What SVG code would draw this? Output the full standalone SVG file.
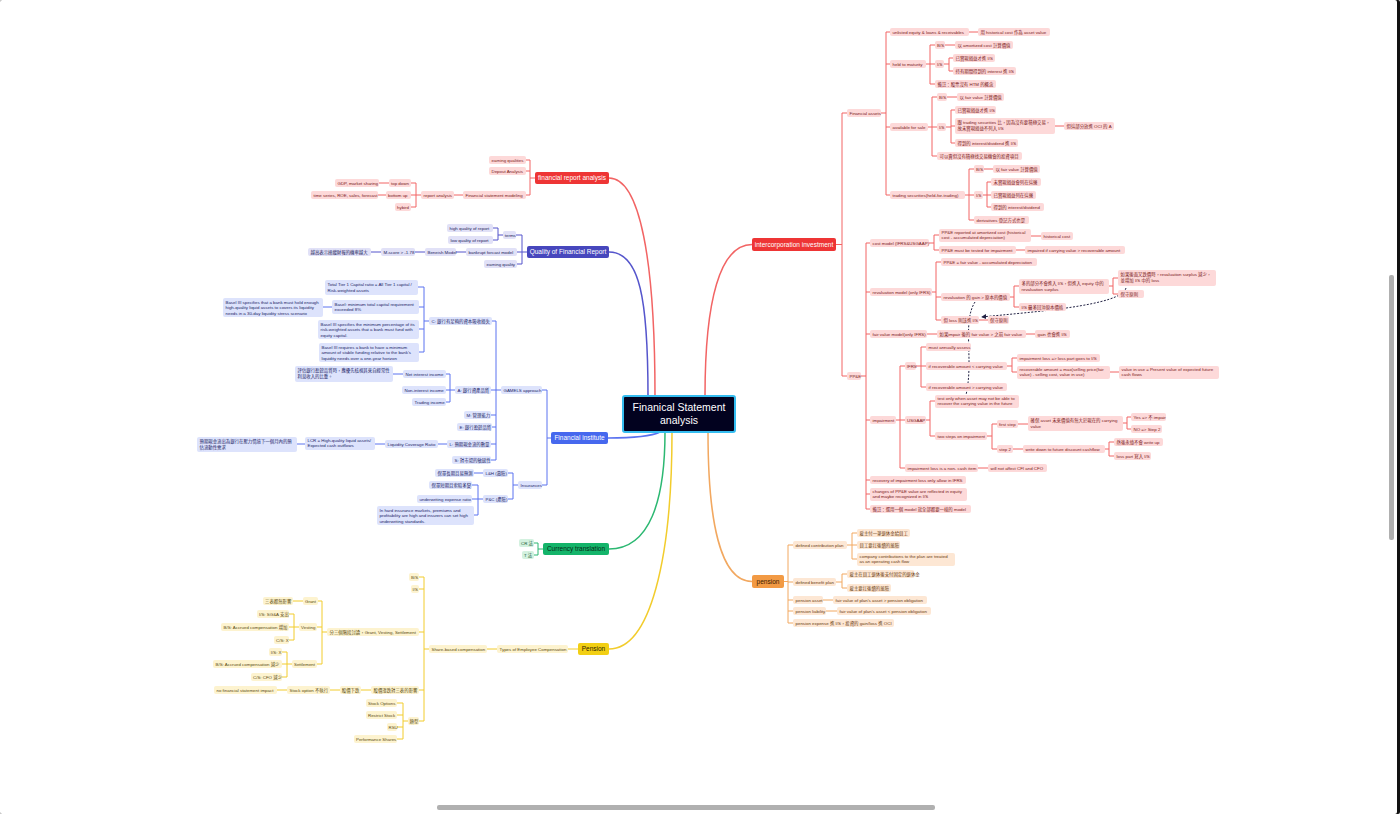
<svg xmlns="http://www.w3.org/2000/svg" width="1400" height="814" viewBox="0 0 1400 814">
<style>
text{font-family:"Liberation Sans","Noto Sans CJK TC",sans-serif;font-size:4.4px}
rect{rx:2}
.r rect{fill:#fdd9d9}.r text{fill:#7a2020}
.o rect{fill:#fde7d4}.o text{fill:#6a3a10}
.p rect{fill:#e1e1f7}.p text{fill:#22225a}
.b rect{fill:#dde3fc}.b text{fill:#1c2466}
.y rect{fill:#fdf3cf}.y text{fill:#5a4a10}
.g rect{fill:#d3f1df}.g text{fill:#1a5a36}
.m text{font-size:6.5px;fill:#fff;text-anchor:middle}
#links path{fill:none;stroke-width:1}
#links path.main{stroke-width:1.5}
.lr{stroke:#f26464}.lo{stroke:#f2a860}.lp{stroke:#5555cc}.lb{stroke:#5a72f0}.ly{stroke:#f2cc2c}.lg{stroke:#2cb872}
</style>
<defs><marker id="ah" viewBox="0 0 6 6" refX="5" refY="3" markerWidth="5" markerHeight="5" orient="auto"><path d="M0,0L6,3L0,6z" fill="#222244"/></marker></defs>
<rect x="0" y="0" width="1400" height="814" fill="#111"/>
<rect x="0" y="0" width="1397" height="814" rx="12" fill="#fff"/>
<rect x="437" y="805" width="498" height="5" rx="2.5" fill="#b0b0b0"/>
<rect x="1389" y="275" width="5" height="265" rx="2.5" fill="#b0b0b0"/>
<g id="links">
<path class="lr main" d="M705,396C705,300 720,244.5 752,244.5"/>
<path class="lo main" d="M708,432C708,520 720,581.5 752,581.5"/>
<path class="lr main" d="M655,396C655,260 640,178 609,178"/>
<path class="lp main" d="M648,396C648,300 640,252 609,252"/>
<path class="lb main" d="M660,432C650,437 630,438 608,438"/>
<path class="lg main" d="M665,432C665,500 650,549 609,549"/>
<path class="ly main" d="M672,432C672,560 650,649 609,649"/>
<path class="lr" d="M836,244.5H842M842,113V376M842,113H847M842,376H847"/>
<path class="lr" d="M881,113H886M886,32V195M886,32H890M886,64H890M886,127H890M886,195H890M969,32H978"/>
<path class="lr" d="M926,64H930M930,45V84M930,45H935M930,64H935M930,84H935M945,45H955M944,64H949M949,58V71M949,58H953M949,71H953"/>
<path class="lr" d="M928,127H932M932,97V156M932,97H937M932,127H937M932,156H937M947,97H957M946,127H951M951,110V143M951,110H955M951,126H955M951,143H955M1055,126H1064"/>
<path class="lr" d="M965,195H969M969,169V220M969,169H974M969,195H974M969,220H974M984,169H993M983,195H987M987,182V207M987,182H991M987,195H991M987,207H991"/>
<path class="lr" d="M861,376H866M866,243V509M866,243H870M866,292H870M866,334H870M866,420H870M866,480H870M866,494H870M866,509H870"/>
<path class="lr" d="M929,243H934M934,235V250M934,235H939M934,250H939M1031,236H1041M1016,250H1025"/>
<path class="lr" d="M932,292H936M936,262V320M936,262H941M936,297H941M936,320H941M1010,297H1014M1014,286V307M1014,286H1019M1014,307H1019M1109,286H1113M1113,278V294M1113,278H1118M1113,294H1118M979,320H988"/>
<path class="lr" d="M927,334H937M1026,334H1035"/>
<path class="lr" d="M896,420H900M900,366V468M900,366H905M900,420H905M900,468H905M916,366H921M921,347V387M921,347H926M921,366H926M921,387H926M1007,366H1012M1012,358V372M1012,358H1017M1012,372H1017M1110,372H1119"/>
<path class="lr" d="M926,420H930M930,401V436M930,401H935M930,436H935M987,436H992M992,424V449M992,424H997M992,449H997M1018,424H1028M1123,423H1127M1127,417V429M1127,417H1131M1127,429H1131M1013,449H1023M1105,449H1109M1109,442V456M1109,442H1114M1109,456H1114M978,468H988"/>
<path d="M1126,288C1122,306 1030,312 982,317" stroke="#222244" stroke-dasharray="2,1.5" marker-end="url(#ah)"/>
<path d="M975,302C962,322 974,360 966,395" stroke="#222244" stroke-dasharray="2,1.5"/>
<path class="lo" d="M784,581.5H788M788,545V623M788,545H793M788,582H793M788,600H793M788,611H793M788,623H793M847,545H852M852,533V559M852,533H857M852,545H857M852,559H857M836,582H842M842,574V588M842,574H847M842,588H847M823,600H833M826,611H837"/>
<path class="lr" d="M535,178H530M530,160V195M530,160H526M530,171H526M530,195H526M463,195H454M421,195H416M416,183V207M416,183H411M416,195H411M416,207H411M389,183H379M386,195H378"/>
<path class="lp" d="M527,252H522M522,235V264M522,235H516M522,252H517M522,264H517M503,235H498M498,228V240M498,228H493M498,240H493M466,252H456M425,252H415M381,252H371"/>
<path class="lb" d="M551,438H547M547,390V485M547,390H542M547,485H542M501,390H496M496,321V460M496,321H492M496,390H491M496,415H491M496,427H492M496,444H491M496,460H491"/>
<path class="lb" d="M429,321H424M424,287V352M424,287H418M424,307H419M424,329H419M424,352H419M332,307H323"/>
<path class="lb" d="M455,390H450M450,374V402M450,374H446M450,390H446M450,402H446M403,374H393M447,444H438M385,444H375M305,444H297"/>
<path class="lb" d="M518,485H513M513,473V499M513,473H508M513,499H508M483,473H474M483,499H478M478,485V515M478,485H472M478,499H472M478,515H474"/>
<path class="lg" d="M543,549H538M538,543V555M538,543H534M538,555H534"/>
<path class="ly" d="M578,649H568M497,649H487M429,649H424M424,577V721M424,577H419M424,589H419M424,632H419M424,690H419M424,721H419"/>
<path class="ly" d="M327,632H322M322,601V664M322,601H318M322,627H317M322,664H317M303,601H293M299,627H294M294,614V640M294,614H289M294,627H289M294,640H289M292,664H287M287,652V677M287,652H282M287,664H282M287,677H282"/>
<path class="ly" d="M371,690H361M340,690H330M287,690H277M408,721H403M403,703V739M403,703H397M403,715H397M403,727H397M403,739H397"/>
</g>
<g id="center"><rect x="623" y="396" width="112" height="36" rx="4" fill="#02021f" stroke="#35bdf0" stroke-width="2"/><text x="679" y="411" fill="#fff" text-anchor="middle" style="font-size:10.5px">Finanical Statement</text><text x="679" y="424" fill="#fff" text-anchor="middle" style="font-size:10.5px">analysis</text></g>
<g id="intercorp" class="m"><rect x="752" y="238" width="84" height="13" fill="#ee3535"/><text x="794" y="246.8">intercorporation investment</text></g>
<g id="pension_o" class="m"><rect x="752" y="575" width="32" height="13" fill="#f29a44"/><text x="768" y="583.8" style="fill:#3a1a00">pension</text></g>
<g id="fra" class="m"><rect x="535" y="172" width="74" height="12" fill="#ee3535"/><text x="572" y="180.3">financial report analysis</text></g>
<g id="qfr" class="m"><rect x="527" y="246" width="82" height="12" fill="#4747bd"/><text x="568" y="254.3">Quality of Financial Report</text></g>
<g id="fi" class="m"><rect x="551" y="432" width="57" height="12" fill="#4668ee"/><text x="579.5" y="440.3">Financial institute</text></g>
<g id="ct" class="m"><rect x="543" y="543" width="66" height="12" fill="#14b46a"/><text x="576" y="551.3" style="fill:#062a16">Currency translation</text></g>
<g id="pension_y" class="m"><rect x="578" y="643" width="31" height="12" fill="#f2cf14"/><text x="593.5" y="651.3" style="fill:#2a2200">Pension</text></g>
<g class="r">
<g id="r1"><rect x="847" y="109" width="34" height="8"/><text x="849.5" y="114.6">Financial assets</text></g>
<g id="r2"><rect x="890" y="28" width="79" height="8"/><text x="892.5" y="33.6">unlisted equity &amp; loans &amp; receivables</text></g>
<g id="r3"><rect x="978" y="28" width="72" height="8"/><text x="980.5" y="33.6">用 historical cost 作為 asset value</text></g>
<g id="r4"><rect x="890" y="60" width="36" height="8"/><text x="892.5" y="65.6">held to maturity</text></g>
<g id="r5"><rect x="935" y="41" width="10" height="8"/><text x="937" y="46.6">B/S</text></g>
<g id="r6"><rect x="955" y="41" width="58" height="8"/><text x="957.5" y="46.6">以 amortized cost 計算價值</text></g>
<g id="r7"><rect x="935" y="60" width="9" height="8"/><text x="937" y="65.6">I/S</text></g>
<g id="r8"><rect x="953" y="54" width="42" height="8"/><text x="955.5" y="59.6">已實現損益才進 I/S</text></g>
<g id="r9"><rect x="953" y="67" width="63" height="8"/><text x="955.5" y="72.6">持有期間得到的 interest 進 I/S</text></g>
<g id="r10"><rect x="935" y="80" width="61" height="8"/><text x="937.5" y="85.6">備註：股票沒有 HTM 的概念</text></g>
<g id="r11"><rect x="890" y="123" width="38" height="8"/><text x="892.5" y="128.6">available for sale</text></g>
<g id="r12"><rect x="937" y="93" width="10" height="8"/><text x="939" y="98.6">B/S</text></g>
<g id="r13"><rect x="957" y="93" width="47" height="8"/><text x="959.5" y="98.6">以 fair value 計算價值</text></g>
<g id="r14"><rect x="937" y="123" width="9" height="8"/><text x="939" y="128.6">I/S</text></g>
<g id="r15"><rect x="955" y="106" width="41" height="8"/><text x="957.5" y="111.6">已實現損益才進 I/S</text></g>
<g id="r16"><rect x="955" y="118" width="100" height="16"/><text x="957.5" y="124">跟 trading securities 比，因為沒有要積極交易，</text><text x="957.5" y="130">故未實現損益不列入 I/S</text></g>
<g id="r17"><rect x="1064" y="122" width="50" height="8"/><text x="1066.5" y="127.6">但這部分放進 OCI 的 A</text></g>
<g id="r18"><rect x="955" y="139" width="63" height="8"/><text x="957.5" y="144.6">得到的 interest/dividend 進 I/S</text></g>
<g id="r19"><rect x="937" y="152" width="85" height="8"/><text x="939.5" y="157.6">可以賣但沒有積極找交易機會的投資項目</text></g>
<g id="r20"><rect x="890" y="191" width="75" height="8"/><text x="892.5" y="196.6">trading securities(held-for-trading)</text></g>
<g id="r21"><rect x="974" y="165" width="10" height="8"/><text x="976" y="170.6">B/S</text></g>
<g id="r22"><rect x="993" y="165" width="47" height="8"/><text x="995.5" y="170.6">以 fair value 計算價值</text></g>
<g id="r23"><rect x="974" y="191" width="9" height="8"/><text x="976" y="196.6">I/S</text></g>
<g id="r24"><rect x="991" y="178" width="50" height="8"/><text x="993.5" y="183.6">未實現損益會列在這邊</text></g>
<g id="r25"><rect x="991" y="191" width="45" height="8"/><text x="993.5" y="196.6">已實現損益列在這邊</text></g>
<g id="r26"><rect x="991" y="203" width="53" height="8"/><text x="993.5" y="208.6">得到的 interest/dividend</text></g>
<g id="r27"><rect x="974" y="216" width="55" height="8"/><text x="976.5" y="221.6">derivatives 登記方式也是</text></g>
<g id="r28"><rect x="847" y="372" width="14" height="8"/><text x="849.5" y="377.6">PP&amp;E</text></g>
<g id="r29"><rect x="870" y="239" width="59" height="8"/><text x="872.5" y="244.6">cost model (IFRS&amp;USGAAP)</text></g>
<g id="r30"><rect x="939" y="229" width="92" height="13"/><text x="941.5" y="234.2">PP&amp;E reported at amortized cost (historical</text><text x="941.5" y="239.4">cost - accumulated depreciation)</text></g>
<g id="r31"><rect x="1041" y="232" width="32" height="8"/><text x="1043.5" y="237.6">historical cost</text></g>
<g id="r32"><rect x="939" y="246" width="77" height="8"/><text x="941.5" y="251.6">PP&amp;E must be tested for impairment</text></g>
<g id="r33"><rect x="1025" y="246" width="100" height="8"/><text x="1027.5" y="251.6">impaired if carrying value &gt; recoverable amount</text></g>
<g id="r34"><rect x="870" y="288" width="62" height="8"/><text x="872.5" y="293.6">revaluation model (only IFRS)</text></g>
<g id="r35"><rect x="941" y="258" width="96" height="8"/><text x="943.5" y="263.6">PP&amp;E = fair value  - accumulated depreciation</text></g>
<g id="r36"><rect x="941" y="293" width="69" height="8"/><text x="943.5" y="298.6">revaluation 的 gain &gt; 原本的價值</text></g>
<g id="r37"><rect x="1019" y="279" width="90" height="15"/><text x="1021.5" y="285">多的部分不會進入 I/S，但進入 equity 中的</text><text x="1021.5" y="290.6">revaluation surplus</text></g>
<g id="r38"><rect x="1118" y="270" width="98" height="16"/><text x="1120.5" y="276.2">如果後面又跌價時，revaluation surplus 減少，</text><text x="1120.5" y="282">並增加 I/S 中的 loss</text></g>
<g id="r39"><rect x="1118" y="290" width="26" height="8"/><text x="1120.5" y="295.6">保守原則</text></g>
<g id="r40"><rect x="1019" y="303" width="47" height="8"/><text x="1021.5" y="308.6">I/S 最多回沖原本價格</text></g>
<g id="r41"><rect x="941" y="316" width="38" height="8"/><text x="943.5" y="321.6">但 loss 則該進 I/S</text></g>
<g id="r42"><rect x="988" y="316" width="21" height="8"/><text x="990" y="321.6">保守原則</text></g>
<g id="r43"><rect x="870" y="330" width="57" height="8"/><text x="872.5" y="335.6">fair value model(only IFRS)</text></g>
<g id="r44"><rect x="937" y="330" width="89" height="8"/><text x="939.5" y="335.6">如果impair 後的 fair value &gt; 之前 fair value</text></g>
<g id="r45"><rect x="1035" y="330" width="35" height="8"/><text x="1037.5" y="335.6">gain 也會進 I/S</text></g>
<g id="r46"><rect x="870" y="416" width="26" height="8"/><text x="872.5" y="421.6">impairment</text></g>
<g id="r47"><rect x="905" y="362" width="11" height="8"/><text x="906.8" y="367.6">IFRS</text></g>
<g id="r48"><rect x="926" y="343" width="45" height="8"/><text x="928.5" y="348.6">must annually assess</text></g>
<g id="r49"><rect x="926" y="362" width="81" height="8"/><text x="928.5" y="367.6">if recoverable amount &lt; carrying value</text></g>
<g id="r50"><rect x="1017" y="354" width="83" height="8"/><text x="1019.5" y="359.6">impairment loss =&gt; loss part goes to I/S</text></g>
<g id="r51"><rect x="1017" y="366" width="93" height="13"/><text x="1019.5" y="371.2">recoverable amount = max(selling price(fair</text><text x="1019.5" y="376.4">value) - selling cost, value in use)</text></g>
<g id="r52"><rect x="1119" y="366" width="100" height="13"/><text x="1121.5" y="371.2">value in use = Present value of expected future</text><text x="1121.5" y="376.4">cash flows</text></g>
<g id="r53"><rect x="926" y="383" width="81" height="8"/><text x="928.5" y="388.6">if recoverable amount &gt; carrying value</text></g>
<g id="r54"><rect x="905" y="416" width="21" height="8"/><text x="907" y="421.6">USGAAP</text></g>
<g id="r55"><rect x="935" y="395" width="84" height="13"/><text x="937.5" y="400.2">test only when asset may not be able to</text><text x="937.5" y="405.4">recover the carrying value in the future</text></g>
<g id="r56"><rect x="935" y="432" width="52" height="8"/><text x="937.5" y="437.6">two steps on impairment</text></g>
<g id="r57"><rect x="997" y="420" width="21" height="8"/><text x="999" y="425.6">first step</text></g>
<g id="r58"><rect x="1028" y="416" width="95" height="15"/><text x="1030.5" y="422">確保 asset 未來價值有無大於現在的 carrying</text><text x="1030.5" y="427.6">value</text></g>
<g id="r59"><rect x="1131" y="413" width="35" height="8"/><text x="1133.5" y="418.6">Yes =&gt; 不 impair</text></g>
<g id="r60"><rect x="1131" y="425" width="31" height="8"/><text x="1133.5" y="430.6">NO =&gt; Step 2</text></g>
<g id="r61"><rect x="997" y="445" width="16" height="8"/><text x="999" y="450.6">step 2</text></g>
<g id="r62"><rect x="1023" y="445" width="82" height="8"/><text x="1025.5" y="450.6">write down to future discount cashflow</text></g>
<g id="r63"><rect x="1114" y="438" width="49" height="8"/><text x="1116.5" y="443.6">然後永遠不會 write up</text></g>
<g id="r64"><rect x="1114" y="452" width="37" height="8"/><text x="1116.5" y="457.6">loss part 寫入 I/S</text></g>
<g id="r65"><rect x="905" y="464" width="73" height="8"/><text x="907.5" y="469.6">impairment loss is a non- cash item</text></g>
<g id="r66"><rect x="988" y="464" width="59" height="8"/><text x="990.5" y="469.6">will not affect CFI and CFO</text></g>
<g id="r67"><rect x="870" y="476" width="96" height="8"/><text x="872.5" y="481.6">recovery of impairment loss only allow in IFRS</text></g>
<g id="r68"><rect x="870" y="488" width="97" height="13"/><text x="872.5" y="493.2">changes of PP&amp;E value are reflected in equity</text><text x="872.5" y="498.4">and maybe recognized in I/S</text></g>
<g id="r69"><rect x="870" y="505" width="101" height="8"/><text x="872.5" y="510.6">備註：選用一個 model 就全部都要一樣的 model</text></g>
<g id="r70"><rect x="489" y="156" width="37" height="8"/><text x="491.5" y="161.6">earning qualities</text></g>
<g id="r71"><rect x="489" y="167" width="37" height="8"/><text x="491.5" y="172.6">Depout Analysis</text></g>
<g id="r72"><rect x="463" y="191" width="63" height="8"/><text x="465.5" y="196.6">Financial statement modeling</text></g>
<g id="r73"><rect x="421" y="191" width="33" height="8"/><text x="423.5" y="196.6">report analysis</text></g>
<g id="r74"><rect x="389" y="179" width="22" height="8"/><text x="391" y="184.6">top down</text></g>
<g id="r75"><rect x="335" y="179" width="44" height="8"/><text x="337.5" y="184.6">GDP, market sharing</text></g>
<g id="r76"><rect x="386" y="191" width="25" height="8"/><text x="388" y="196.6">bottom up</text></g>
<g id="r77"><rect x="311" y="191" width="67" height="8"/><text x="313.5" y="196.6">time series, ROE, sales, forecast</text></g>
<g id="r78"><rect x="395" y="203" width="16" height="8"/><text x="397" y="208.6">hybird</text></g>
</g>
<g class="o">
<g id="o1"><rect x="793" y="541" width="54" height="8"/><text x="795.5" y="546.6">defined contribution plan</text></g>
<g id="o2"><rect x="857" y="529" width="53" height="8"/><text x="859.5" y="534.6">雇主付一筆退休金給員工</text></g>
<g id="o3"><rect x="857" y="541" width="43" height="8"/><text x="859.5" y="546.6">員工要扛後續的風險</text></g>
<g id="o4"><rect x="857" y="553" width="98" height="13"/><text x="859.5" y="558.2">company contributions to the plan are treated</text><text x="859.5" y="563.4">as an operating cash flow</text></g>
<g id="o5"><rect x="793" y="578" width="43" height="8"/><text x="795.5" y="583.6">defined benefit plan</text></g>
<g id="o6"><rect x="847" y="570" width="67" height="8"/><text x="849.5" y="575.6">雇主在員工退休後支付固定的退休金</text></g>
<g id="o7"><rect x="847" y="584" width="44" height="8"/><text x="849.5" y="589.6">雇主要扛後續的風險</text></g>
<g id="o8"><rect x="793" y="596" width="30" height="8"/><text x="795.5" y="601.6">pension asset</text></g>
<g id="o9"><rect x="833" y="596" width="94" height="8"/><text x="835.5" y="601.6">fair value of plan's asset &gt; pension obligation</text></g>
<g id="o10"><rect x="793" y="607" width="33" height="8"/><text x="795.5" y="612.6">pension liability</text></g>
<g id="o11"><rect x="837" y="607" width="94" height="8"/><text x="839.5" y="612.6">fair value of plan's asset &lt; pension obligation</text></g>
<g id="o12"><rect x="793" y="619" width="101" height="8"/><text x="795.5" y="624.6">pension expense 進 I/S，投資的 gain/loss 進 OCI</text></g>
</g>
<g class="p">
<g id="p1"><rect x="503" y="231" width="13" height="8"/><text x="504.8" y="236.6">terms</text></g>
<g id="p2"><rect x="447" y="224" width="46" height="8"/><text x="449.5" y="229.6">high quality of report</text></g>
<g id="p3"><rect x="448" y="236" width="45" height="8"/><text x="450.5" y="241.6">low quality of report</text></g>
<g id="p4"><rect x="466" y="248" width="51" height="8"/><text x="468.5" y="253.6">bankrupt forcast model</text></g>
<g id="p5"><rect x="425" y="248" width="31" height="8"/><text x="427.5" y="253.6">Beneish Model</text></g>
<g id="p6"><rect x="381" y="248" width="34" height="8"/><text x="383.5" y="253.6">M-score &gt; -1.78</text></g>
<g id="p7"><rect x="308" y="248" width="63" height="8"/><text x="310.5" y="253.6">越高表示操縱財報的機率越大</text></g>
<g id="p8"><rect x="484" y="260" width="33" height="8"/><text x="486.5" y="265.6">earning quality</text></g>
</g>
<g class="b">
<g id="b1"><rect x="501" y="386" width="41" height="8"/><text x="503.5" y="391.6">GAMELS approach</text></g>
<g id="b2"><rect x="429" y="317" width="63" height="8"/><text x="431.5" y="322.6">C: 銀行有足夠的資本吸收損失</text></g>
<g id="b3"><rect x="325" y="280" width="93" height="15"/><text x="327.5" y="286">Total Tier 1 Capital ratio = All Tier 1 capital /</text><text x="327.5" y="291.6">Risk-weighted assets</text></g>
<g id="b4"><rect x="332" y="300" width="87" height="14"/><text x="334.5" y="305.8">Basel: minimum total capital requirement</text><text x="334.5" y="311.2">exceeded 8%</text></g>
<g id="b5"><rect x="223" y="298" width="100" height="19"/><text x="225.5" y="303.6">Basel III specifies that a bank must hold enough</text><text x="225.5" y="309.2">high-quality liquid assets to covers its liquidity</text><text x="225.5" y="314.8">needs in a 30-day liquidity stress scenario</text></g>
<g id="b6"><rect x="318" y="320" width="101" height="19"/><text x="320.5" y="325.6">Basel III specifies the minimum percentage of its</text><text x="320.5" y="331.2">risk-weighted assets that a bank must fund with</text><text x="320.5" y="336.8">equity capital.</text></g>
<g id="b7"><rect x="319" y="343" width="100" height="19"/><text x="321.5" y="348.6">Basel III requires a bank to have a minimum</text><text x="321.5" y="354.2">amount of stable funding relative to the bank's</text><text x="321.5" y="359.8">liquidity needs over a one-year horizon</text></g>
<g id="b8"><rect x="455" y="386" width="36" height="8"/><text x="457.5" y="391.6">A: 銀行資產品質</text></g>
<g id="b9"><rect x="403" y="370" width="43" height="8"/><text x="405.5" y="375.6">Net interest income</text></g>
<g id="b10"><rect x="295" y="366" width="98" height="16"/><text x="297.5" y="372.2">評估銀行盈餘品質時，應優先核視其來自經常性</text><text x="297.5" y="378">利息收入的比重。</text></g>
<g id="b11"><rect x="402" y="386" width="44" height="8"/><text x="404.5" y="391.6">Non-interest income</text></g>
<g id="b12"><rect x="412" y="398" width="34" height="8"/><text x="414.5" y="403.6">Trading income</text></g>
<g id="b13"><rect x="464" y="411" width="27" height="8"/><text x="466.5" y="416.6">M: 管理能力</text></g>
<g id="b14"><rect x="457" y="423" width="35" height="8"/><text x="459.5" y="428.6">E: 銀行盈餘品質</text></g>
<g id="b15"><rect x="447" y="440" width="44" height="8"/><text x="449.5" y="445.6">L: 預期現金流的數量</text></g>
<g id="b16"><rect x="385" y="440" width="53" height="8"/><text x="387.5" y="445.6">Liquidity Coverage Ratio</text></g>
<g id="b17"><rect x="305" y="437" width="70" height="13"/><text x="307.5" y="442.2">LCR = High-quality liquid assets/</text><text x="307.5" y="447.4">Expected cash outflows</text></g>
<g id="b18"><rect x="197" y="437" width="100" height="15"/><text x="199.5" y="443">預期現金流出為銀行在壓力情境下一個月內的預</text><text x="199.5" y="448.6">估流動性需求</text></g>
<g id="b19"><rect x="452" y="456" width="39" height="8"/><text x="454.5" y="461.6">S: 對市場的敏感性</text></g>
<g id="b20"><rect x="518" y="481" width="24" height="8"/><text x="520.5" y="486.6">Insurances</text></g>
<g id="b21"><rect x="483" y="469" width="25" height="8"/><text x="485.5" y="474.6">L&amp;H (壽險)</text></g>
<g id="b22"><rect x="435" y="469" width="39" height="8"/><text x="437.5" y="474.6">保單長期且易預測</text></g>
<g id="b23"><rect x="483" y="495" width="25" height="8"/><text x="485.5" y="500.6">P&amp;C (產險)</text></g>
<g id="b24"><rect x="429" y="481" width="43" height="8"/><text x="431.5" y="486.6">保單短期且索賠多變</text></g>
<g id="b25"><rect x="417" y="495" width="55" height="8"/><text x="419.5" y="500.6">underwriting expense ratio</text></g>
<g id="b26"><rect x="377" y="506" width="97" height="19"/><text x="379.5" y="511.6">In hard insurance markets, premiums and</text><text x="379.5" y="517.2">profitability are high and insurers can set high</text><text x="379.5" y="522.8">underwriting standards.</text></g>
</g>
<g class="g">
<g id="g1"><rect x="519" y="539" width="15" height="8"/><text x="521" y="544.6">CR 法</text></g>
<g id="g2"><rect x="522" y="551" width="12" height="8"/><text x="524" y="556.6">T 法</text></g>
</g>
<g class="y">
<g id="y1"><rect x="497" y="645" width="71" height="8"/><text x="499.5" y="650.6">Types of Employee Compensation</text></g>
<g id="y2"><rect x="429" y="645" width="58" height="8"/><text x="431.5" y="650.6">Share-based compensation</text></g>
<g id="y3"><rect x="409" y="573" width="10" height="8"/><text x="411" y="578.6">B/S</text></g>
<g id="y4"><rect x="411" y="585" width="8" height="8"/><text x="412.5" y="590.6">I/S</text></g>
<g id="y5"><rect x="327" y="628" width="92" height="8"/><text x="329.5" y="633.6">分三個階段討論，Grant, Vesting, Settlement</text></g>
<g id="y6"><rect x="303" y="597" width="15" height="8"/><text x="305" y="602.6">Grant</text></g>
<g id="y7"><rect x="263" y="597" width="30" height="8"/><text x="265" y="602.6">三表都無影響</text></g>
<g id="y8"><rect x="299" y="623" width="18" height="8"/><text x="301" y="628.6">Vesting</text></g>
<g id="y9"><rect x="257" y="610" width="32" height="8"/><text x="259" y="615.6">I/S: SG&amp;A 支出</text></g>
<g id="y10"><rect x="221" y="623" width="68" height="8"/><text x="223.5" y="628.6">B/S: Accrued compensation 增加</text></g>
<g id="y11"><rect x="274" y="636" width="15" height="8"/><text x="276" y="641.6">C/S: X</text></g>
<g id="y12"><rect x="292" y="660" width="25" height="8"/><text x="294" y="665.6">Settlement</text></g>
<g id="y13"><rect x="269" y="648" width="13" height="8"/><text x="270.8" y="653.6">I/S: X</text></g>
<g id="y14"><rect x="213" y="660" width="69" height="8"/><text x="215.5" y="665.6">B/S: Accrued compensation 減少</text></g>
<g id="y15"><rect x="251" y="673" width="31" height="8"/><text x="253" y="678.6">C/S: CFO 減少</text></g>
<g id="y16"><rect x="371" y="686" width="48" height="8"/><text x="373.5" y="691.6">股價漲跌對三表的影響</text></g>
<g id="y17"><rect x="340" y="686" width="21" height="8"/><text x="341.8" y="691.6">股價下跌</text></g>
<g id="y18"><rect x="287" y="686" width="43" height="8"/><text x="289.5" y="691.6">Stock option 不執行</text></g>
<g id="y19"><rect x="214" y="686" width="63" height="8"/><text x="216.5" y="691.6">no financial statement impact</text></g>
<g id="y20"><rect x="408" y="717" width="11" height="8"/><text x="409.5" y="722.6">類型</text></g>
<g id="y21"><rect x="366" y="699" width="31" height="8"/><text x="368" y="704.6">Stock Options</text></g>
<g id="y22"><rect x="366" y="711" width="31" height="8"/><text x="368" y="716.6">Restrict Stock</text></g>
<g id="y23"><rect x="387" y="723" width="10" height="8"/><text x="388.5" y="728.6">RSU</text></g>
<g id="y24"><rect x="354" y="735" width="43" height="8"/><text x="356" y="740.6">Performance Shares</text></g>
</g>
</svg>
